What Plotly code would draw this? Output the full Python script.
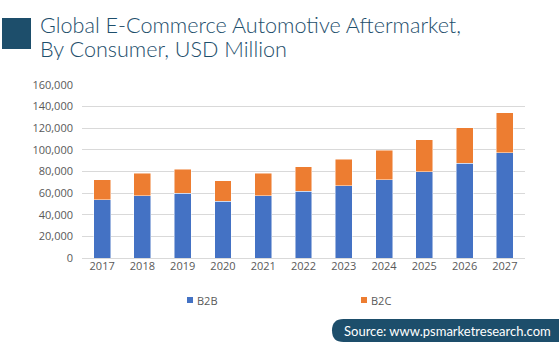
import plotly.graph_objects as go

years = ["2017", "2018", "2019", "2020", "2021", "2022", "2023", "2024", "2025", "2026", "2027"]
b2b = [54000, 57400, 60100, 52700, 57400, 61700, 66600, 72500, 79600, 87600, 97400]
b2c = [18500, 20900, 22200, 18800, 20900, 22800, 24700, 27100, 29900, 32700, 37000]
series_names = ["B2B", "B2C"]
colors = ["#4472C4", "#ED7D31"]
title_lines = ["Global E-Commerce Automotive Aftermarket,", "By Consumer, USD Million"]
source_text = "Source: www.psmarketresearch.com"

W, H = 559, 351
L, R, T, B = 82, 34, 85, 93
pw, ph = W - L - R, H - T - B

def px(x):
    return (x - L) / pw

def py(y):
    return (H - B - y) / ph

fig = go.Figure()
for name, vals, col in zip(series_names, [b2b, b2c], colors):
    fig.add_trace(go.Bar(x=years, y=vals, name=name, marker_color=col,
                         marker_line_color="rgba(255,255,255,0.6)", marker_line_width=0.8,
                         showlegend=False))

title_color = "#1d4e6b"
shapes = [
    dict(type="rect", xref="paper", yref="paper", x0=px(2), x1=px(31), y0=py(49), y1=py(18),
         fillcolor=title_color, line_width=0, layer="above"),
]
# source pill
x0, x1, y0, y1 = px(332), px(575), py(342), py(319)
rx = 11.5 / pw
path = (f"M {x0+rx},{y1} L {x1},{y1} L {x1},{y0} L {x0+rx},{y0} "
        f"Q {x0},{y0} {x0},{(y0+y1)/2} Q {x0},{y1} {x0+rx},{y1} Z")
shapes.append(dict(type="path", xref="paper", yref="paper", path=path,
                   fillcolor=title_color, line_width=0))
# legend squares
for sx, col in [(187, colors[0]), (361, colors[1])]:
    shapes.append(dict(type="rect", xref="paper", yref="paper", x0=px(sx), x1=px(sx + 6),
                       y0=py(303), y1=py(297), fillcolor=col, line_width=0))

tfont = dict(family="Lato", size=21.6, color=title_color, weight=300)
annotations = [
    dict(text=title_lines[0], xref="paper", yref="paper", x=px(38), y=py(25), xanchor="left",
         yanchor="middle", height=23, valign="middle", showarrow=False, font=tfont),
    dict(text=title_lines[1], xref="paper", yref="paper", x=px(38), y=py(48), xanchor="left",
         yanchor="middle", height=23, valign="middle", showarrow=False, font=tfont),
    dict(text=source_text, xref="paper", yref="paper", x=px(342), y=py(330.5), xanchor="left",
         yanchor="middle", showarrow=False, font=dict(family="Lato", size=13, color="white")),
]
for tx, name in [(195, series_names[0]), (369, series_names[1])]:
    annotations.append(dict(text=name, xref="paper", yref="paper", x=px(tx), y=py(300),
                            xanchor="left", yanchor="middle", showarrow=False,
                            font=dict(family="Open Sans", size=11, color="#595959")))

fig.update_layout(
    width=W, height=H, barmode="stack", bargap=0.58,
    margin=dict(l=L, r=R, t=T, b=B),
    paper_bgcolor="white", plot_bgcolor="white",
    shapes=shapes, annotations=annotations,
    font=dict(family="Open Sans", size=11, color="#595959"),
    xaxis=dict(showgrid=False, showline=False, ticks="", tickfont=dict(size=11, color="#595959")),
    yaxis=dict(range=[0, 160000], dtick=20000, tickformat=",", gridcolor="#d9d9d9",
               gridwidth=1, zeroline=True, zerolinecolor="#d9d9d9", zerolinewidth=1,
               showline=False, ticks="", ticklabelstandoff=8,
               tickfont=dict(size=11, color="#595959")),
)

fig.write_html("out.html")
